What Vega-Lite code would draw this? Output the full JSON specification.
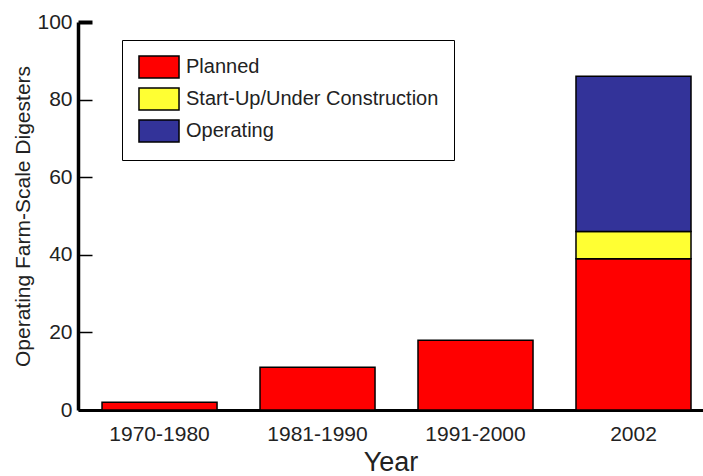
{
  "$schema": "https://vega.github.io/schema/vega-lite/v6.json",
  "width": 625,
  "height": 388,
  "autosize": "none",
  "padding": {"left": 78, "top": 22, "right": 0, "bottom": 66},
  "background": "white",
  "config": {
    "font": "Liberation Sans",
    "view": {"stroke": null}
  },
  "data": {
    "values": [
      {"period": "1970-1980", "status": "Planned", "count": 2, "ord": 1},
      {"period": "1981-1990", "status": "Planned", "count": 11, "ord": 1},
      {"period": "1991-2000", "status": "Planned", "count": 18, "ord": 1},
      {"period": "2002", "status": "Planned", "count": 39, "ord": 1},
      {"period": "2002", "status": "Start-Up/Under Construction", "count": 7, "ord": 2},
      {"period": "2002", "status": "Operating", "count": 40, "ord": 3}
    ]
  },
  "mark": {"type": "bar", "stroke": "black", "strokeWidth": 1.5},
  "encoding": {
    "x": {
      "field": "period",
      "type": "nominal",
      "sort": ["1970-1980", "1981-1990", "1991-2000", "2002"],
      "scale": {"paddingInner": 0.272, "paddingOuter": 0.114, "align": 0.667},
      "axis": {
        "title": "Year",
        "titleFontSize": 27,
        "titleFontWeight": "normal",
        "titleColor": "#222",
        "titlePadding": 5,
        "labelAngle": 0,
        "labelFontSize": 21,
        "labelColor": "#222",
        "labelPadding": 13,
        "ticks": false,
        "domainColor": "black",
        "domainWidth": 3
      }
    },
    "y": {
      "field": "count",
      "type": "quantitative",
      "stack": "zero",
      "scale": {"domain": [0, 100], "nice": false},
      "axis": {
        "title": "Operating Farm-Scale Digesters",
        "titleFontSize": 21,
        "titleFontWeight": "normal",
        "titleColor": "#222",
        "titlePadding": 3,
        "values": [0, 20, 40, 60, 80, 100],
        "grid": false,
        "labelFontSize": 21,
        "labelColor": "#222",
        "labelPadding": 20,
        "tickSize": -14,
        "tickColor": "black",
        "tickWidth": {"condition": {"test": "datum.value === 100", "value": 4}, "value": 1.5},
        "domainColor": "black",
        "domainWidth": 3.5
      }
    },
    "color": {
      "field": "status",
      "type": "nominal",
      "sort": ["Planned", "Start-Up/Under Construction", "Operating"],
      "scale": {
        "domain": ["Planned", "Start-Up/Under Construction", "Operating"],
        "range": ["#ff0000", "#ffff33", "#333399"]
      },
      "legend": {
        "title": null,
        "orient": "none",
        "legendX": 44,
        "legendY": 18,
        "strokeColor": "black",
        "fillColor": "white",
        "padding": 15,
        "symbolType": "M-1.82,-1H1.82V1H-1.82Z",
        "symbolSize": 484,
        "symbolOffset": 10,
        "symbolStrokeColor": "black",
        "symbolStrokeWidth": 1.5,
        "symbolOpacity": 1,
        "labelFontSize": 20,
        "labelColor": "#222",
        "labelOffset": 15,
        "rowPadding": 4,
        "labelLimit": 400
      }
    },
    "order": {"field": "ord", "type": "quantitative"}
  }
}
